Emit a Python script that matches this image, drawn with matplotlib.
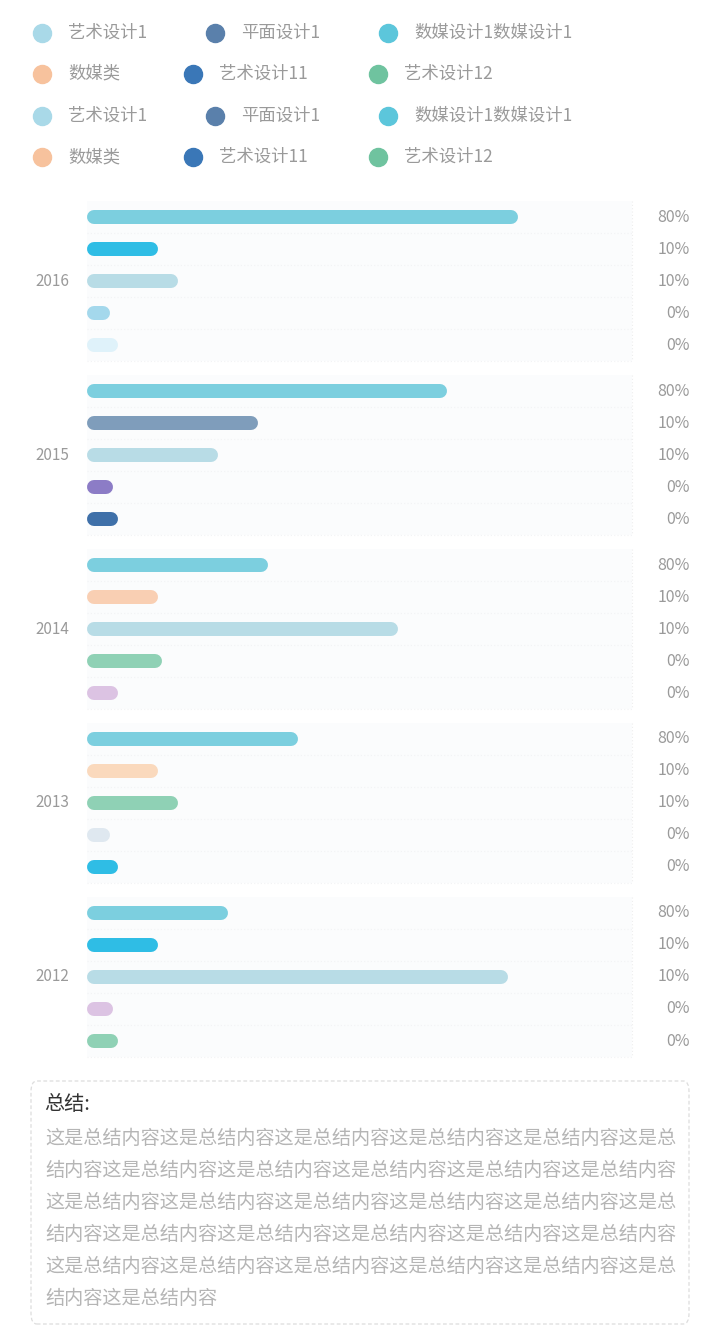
import matplotlib
matplotlib.use("Agg")
import matplotlib.pyplot as plt
from matplotlib.patches import FancyBboxPatch
from matplotlib.transforms import blended_transform_factory

plt.rcParams['font.family'] = ['Noto Sans CJK SC', 'DejaVu Sans']

# ---------------- data ----------------
years = ["2016", "2015", "2014", "2013", "2012"]
values_2016 = [77.5, 10.6, 14.3, 1.7, 3.2]
values_2015 = [64.3, 29.2, 21.7, 2.2, 3.2]
values_2014 = [31.0, 10.6, 55.2, 11.3, 3.2]
values_2013 = [36.6, 10.6, 14.3, 1.7, 3.2]
values_2012 = [23.6, 10.6, 75.7, 2.2, 3.2]
group_values = [values_2016, values_2015, values_2014, values_2013, values_2012]

colors_2016 = ["#7ccfdf", "#2fbde5", "#b8dce6", "#a4d8ec", "#dff2fa"]
colors_2015 = ["#7ccfdf", "#7f9dbb", "#b8dce6", "#8c7cc6", "#3f70a9"]
colors_2014 = ["#7ccfdf", "#f9cfb3", "#b8dce6", "#8fd1b5", "#dcc3e3"]
colors_2013 = ["#7ccfdf", "#fad9bd", "#8fd1b5", "#dfe8f0", "#2fbde5"]
colors_2012 = ["#7ccfdf", "#2fbde5", "#b8dce6", "#dcc3e3", "#8fd1b5"]
group_colors = [colors_2016, colors_2015, colors_2014, colors_2013, colors_2012]

right_labels = ["80%", "10%", "10%", "0%", "0%"]

legend_labels = ["艺术设计1", "平面设计1", "数媒设计1数媒设计1",
                 "数媒类", "艺术设计11", "艺术设计12"]
legend_colors = ["#a9d9e8", "#5a80ab", "#5cc6db", "#f7c29d", "#3a77b7", "#6fc39f"]

summary_title = "总结:"
summary_text = "这是总结内容" * 29

# ---------------- figure ----------------
W, H = 720, 1344
fig = plt.figure(figsize=(W / 100, H / 100), dpi=100)
fig.patch.set_facecolor("white")


def fx(px):
    return px / W


def fy(py):
    return 1 - py / H


# legend (two copies, flow layout)
leg_rows_y = [33, 74, 116, 157]
row_a_x = [42, 215, 388]
row_b_x = [42, 193, 378]
for ri, yy in enumerate(leg_rows_y):
    xs = row_a_x if ri % 2 == 0 else row_b_x
    base = 0 if ri % 2 == 0 else 3
    for ci in range(3):
        idx = base + ci
        fig.add_artist(plt.Line2D([fx(xs[ci])], [fy(yy)], marker="o", markersize=13,
                                  color=legend_colors[idx], transform=fig.transFigure,
                                  linestyle="none"))
        fig.text(fx(xs[ci] + 26), fy(yy), legend_labels[idx], fontsize=12.5,
                 color="#9a9a9a", va="center", ha="left")

# bar chart axes
ax_left, ax_right = 94, 632
ax_top, ax_bottom = 201, 1058
ax = fig.add_axes([fx(ax_left), fy(ax_bottom), fx(ax_right - ax_left),
                   (ax_bottom - ax_top) / H])
ax.set_xlim(0, 100)
unit = 32.0
n_units = (ax_bottom - ax_top) / unit
ax.set_ylim(n_units - 0.5, -0.5)
ax.axis("off")

group_step = 174 / unit
bar_lw = 14 * 72 / 100  # 14 px in points

trans_fig_data = blended_transform_factory(fig.transFigure, ax.transData)

for g, (vals, cols) in enumerate(zip(group_values, group_colors)):
    for r, (v, c) in enumerate(zip(vals, cols)):
        y = g * group_step + r
        # faint background row
        ax.barh(y, 101.3, left=-1.3, height=1.0, color="#fbfcfd", zorder=0,
                clip_on=False)
        ax.plot([-1.3, 100], [y + 0.5, y + 0.5], color="#f2f3f5", lw=0.8,
                ls=(0, (1, 2)), zorder=0.5, clip_on=False)
        ax.plot([0, v], [y, y], color=c, lw=bar_lw, solid_capstyle="round",
                zorder=2, clip_on=False)
        ax.text(fx(690), y, right_labels[r], transform=trans_fig_data,
                ha="right", va="center", fontsize=11.5, color="#9a9a9a")
    ax.text(fx(52), g * group_step + 2, years[g], transform=trans_fig_data,
            ha="center", va="center", fontsize=11, color="#9a9a9a")
    ax.plot([100, 100], [g * group_step - 0.5, g * group_step + 4.5],
            color="#eeeeee", lw=0.8, ls=(0, (1, 2)), zorder=0.5, clip_on=False)

# summary box
bx0, by0, bx1, by1 = 31, 1081, 689, 1324
box = FancyBboxPatch((fx(bx0), fy(by1)), fx(bx1 - bx0), (by1 - by0) / H,
                     boxstyle="round,pad=0,rounding_size=0.008",
                     transform=fig.transFigure, facecolor="white",
                     edgecolor="#dddddd", lw=0.9, ls=(0, (3, 2)))
fig.add_artist(box)
fig.text(fx(44), fy(1105), summary_title, fontsize=14.5, color="#333333",
         ha="left", va="center")
chars_per_line = 33
lines = [summary_text[i:i + chars_per_line]
         for i in range(0, len(summary_text), chars_per_line)]
for li, line in enumerate(lines):
    fig.text(fx(45), fy(1138 + 32 * li), line, fontsize=13.8, color="#b5b5b5",
             ha="left", va="center")

fig.savefig("out.png", dpi=100)
